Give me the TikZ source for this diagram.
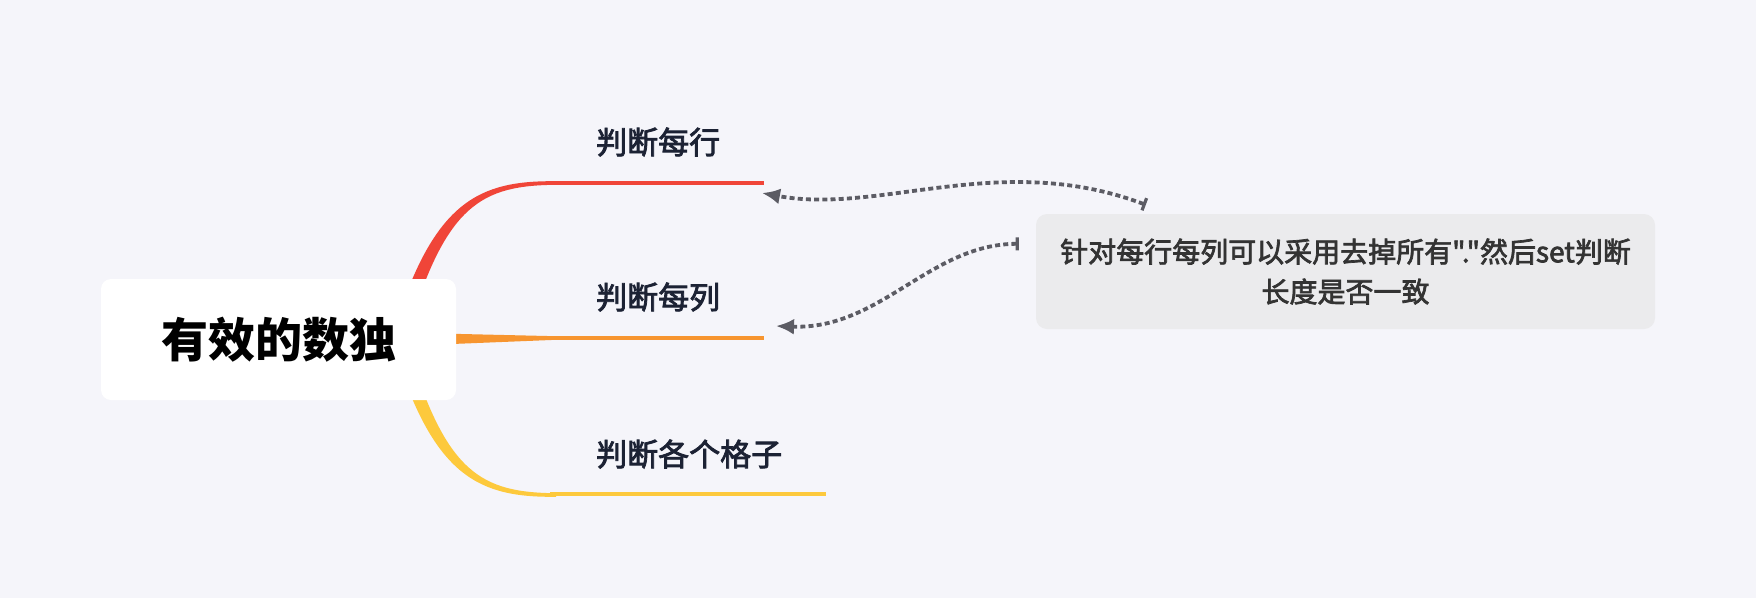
\documentclass[tikz,border=0pt]{standalone}
\usepackage{fontspec}
\setmainfont{Noto Sans CJK SC}[Ligatures=TeXOff]
\newfontfamily\cjkmed{Noto Sans CJK SC}[Ligatures=TeXOff, UprightFeatures={FakeBold=2.5}]
\usepackage{xcolor}
\usetikzlibrary{arrows.meta}

\definecolor{bgcol}{RGB}{245,245,250}
\definecolor{redbr}{RGB}{240,69,56}
\definecolor{orangebr}{RGB}{247,149,47}
\definecolor{yellowbr}{RGB}{253,201,60}
\definecolor{labelcol}{RGB}{28,34,52}
\definecolor{notefill}{RGB}{235,235,237}
\definecolor{notetext}{RGB}{51,51,51}
\definecolor{linkcol}{RGB}{92,92,100}

\tikzset{
  rootbox/.style={fill=white, rounded corners=10pt, minimum width=355pt, minimum height=121pt,
    font=\fontsize{47}{56}\selectfont\bfseries, text=black},
  branchlabel/.style={anchor=west, text=labelcol, inner sep=0pt, font=\cjkmed\fontsize{31}{37}\selectfont},
  notebox/.style={fill=notefill, rounded corners=11pt, minimum width=619pt, minimum height=115pt,
    align=center, text=notetext, font=\cjkmed\fontsize{28}{40}\selectfont},
  relink/.style={linkcol, line width=3.8pt, dash pattern=on 5pt off 3.2pt,
    {Bar[width=13pt,line width=3.2pt]}-{Latex[length=18pt,width=16pt]}}
}

\begin{document}
\begin{tikzpicture}[x=1pt, y=-1pt]
  % Background
  \fill[bgcol] (0,0) rectangle (1756,598);
  \useasboundingbox (0,0) rectangle (1756,598);
  % Branches (tapered, drawn below the root)
  \fill[redbr] (394,330) .. controls (434,200) and (480,180.5) .. (556,181.2)
    -- (556,184.8) .. controls (482,185.5) and (446,204) .. (408,332) -- cycle;
  \draw[redbr, line width=3.6pt] (550,183) -- (764,183) coordinate (rowend);
  \fill[orangebr] (440,333.5) -- (556,336.2) -- (556,339.8) -- (440,344.5) -- cycle;
  \draw[orangebr, line width=3.6pt] (550,338) -- (764,338) coordinate (colend);
  \fill[yellowbr] (394,348) .. controls (434,478) and (480,497.5) .. (556,496.8)
    -- (556,493.2) .. controls (482,492.5) and (446,474) .. (408,346) -- cycle;
  \draw[yellowbr, line width=3.6pt] (550,494) -- (826,494) coordinate (boxend);
  % Root
  \node[rootbox] (root) at (278.5,339.5) {有效的数独};
  % Labels
  \node[branchlabel] (row) at (596,142) {判断每行};
  \node[branchlabel] (col) at (596,297) {判断每列};
  \node[branchlabel] (box) at (596,454) {判断各个格子};
  % Note
  \node[notebox] (note) at (1345.5,271.5) {针对每行每列可以采用去掉所有"."然后set判断\\长度是否一致};
  % Relations
  \draw[relink] ([shift={(110,-9)}]note.north west) .. controls (1000,150) and (880,215) .. ([shift={(-2,10)}]rowend);
  \draw[relink] ([shift={(-17,30)}]note.north west) .. controls (930,244) and (880,330) .. ([shift={(12,-12)}]colend);
\end{tikzpicture}
\end{document}
